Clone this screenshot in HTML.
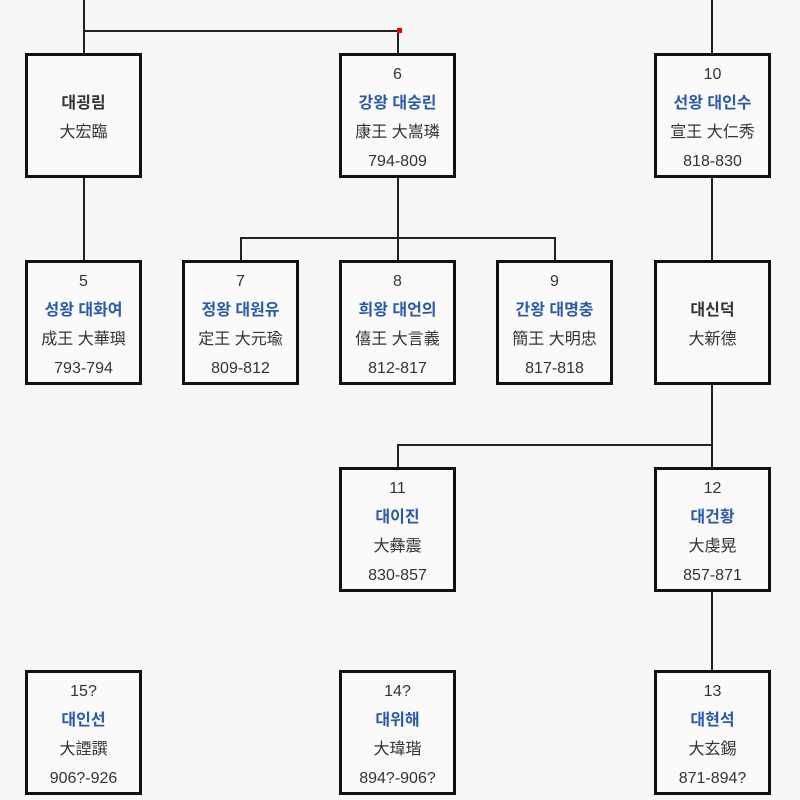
<!DOCTYPE html>
<html><head><meta charset="utf-8"><style>
body{margin:0;width:800px;height:800px;background:#f7f7f7;position:relative;overflow:hidden;font-family:"Liberation Sans","Noto Sans CJK KR",sans-serif}
.b{position:absolute;width:111px;height:115px;padding-top:4px;border:3px solid #111;background:#fafafa;box-sizing:content-box;display:flex;flex-direction:column;justify-content:center;align-items:center;text-align:center;font-size:16px;color:#333;line-height:29px}
.n{color:#2a5aa8;font-weight:bold;font-size:16px}
.k{font-weight:bold;font-size:16px;color:#333}
.l{position:absolute;background:#222}
.r{position:absolute;width:5px;height:5px;background:#e00}
</style></head><body>
<div class="l" style="left:83px;top:0;width:2px;height:53px"></div>
<div class="l" style="left:83px;top:30px;width:316px;height:2px"></div>
<div class="l" style="left:397px;top:30px;width:2px;height:23px"></div>
<div class="l" style="left:711px;top:0;width:2px;height:53px"></div>
<div class="l" style="left:83px;top:178px;width:2px;height:82px"></div>
<div class="l" style="left:397px;top:178px;width:2px;height:82px"></div>
<div class="l" style="left:240px;top:237px;width:316px;height:2px"></div>
<div class="l" style="left:240px;top:237px;width:2px;height:23px"></div>
<div class="l" style="left:554px;top:237px;width:2px;height:23px"></div>
<div class="l" style="left:711px;top:178px;width:2px;height:82px"></div>
<div class="l" style="left:711px;top:385px;width:2px;height:82px"></div>
<div class="l" style="left:397px;top:444px;width:316px;height:2px"></div>
<div class="l" style="left:397px;top:444px;width:2px;height:23px"></div>
<div class="l" style="left:711px;top:592px;width:2px;height:78px"></div>
<div class="r" style="left:397px;top:28px"></div>
<div class="r" style="left:419px;top:271px"></div>

<div class="b" style="left:25px;top:53px"><div class="k">대굉림</div><div>大宏臨</div></div>
<div class="b" style="left:339px;top:53px"><div>6</div><div class="n">강왕 대숭린</div><div>康王 大嵩璘</div><div>794-809</div></div>
<div class="b" style="left:654px;top:53px"><div>10</div><div class="n">선왕 대인수</div><div>宣王 大仁秀</div><div>818-830</div></div>

<div class="b" style="left:25px;top:260px"><div>5</div><div class="n">성왕 대화여</div><div>成王 大華璵</div><div>793-794</div></div>
<div class="b" style="left:182px;top:260px"><div>7</div><div class="n">정왕 대원유</div><div>定王 大元瑜</div><div>809-812</div></div>
<div class="b" style="left:339px;top:260px"><div>8</div><div class="n">희왕 대언의</div><div>僖王 大言義</div><div>812-817</div></div>
<div class="b" style="left:496px;top:260px"><div>9</div><div class="n">간왕 대명충</div><div>簡王 大明忠</div><div>817-818</div></div>
<div class="b" style="left:654px;top:260px"><div class="k">대신덕</div><div>大新德</div></div>

<div class="b" style="left:339px;top:467px"><div>11</div><div class="n">대이진</div><div>大彝震</div><div>830-857</div></div>
<div class="b" style="left:654px;top:467px"><div>12</div><div class="n">대건황</div><div>大虔晃</div><div>857-871</div></div>

<div class="b" style="left:25px;top:670px"><div>15?</div><div class="n">대인선</div><div>大諲譔</div><div>906?-926</div></div>
<div class="b" style="left:339px;top:670px"><div>14?</div><div class="n">대위해</div><div>大瑋瑎</div><div>894?-906?</div></div>
<div class="b" style="left:654px;top:670px"><div>13</div><div class="n">대현석</div><div>大玄錫</div><div>871-894?</div></div>
</body></html>
